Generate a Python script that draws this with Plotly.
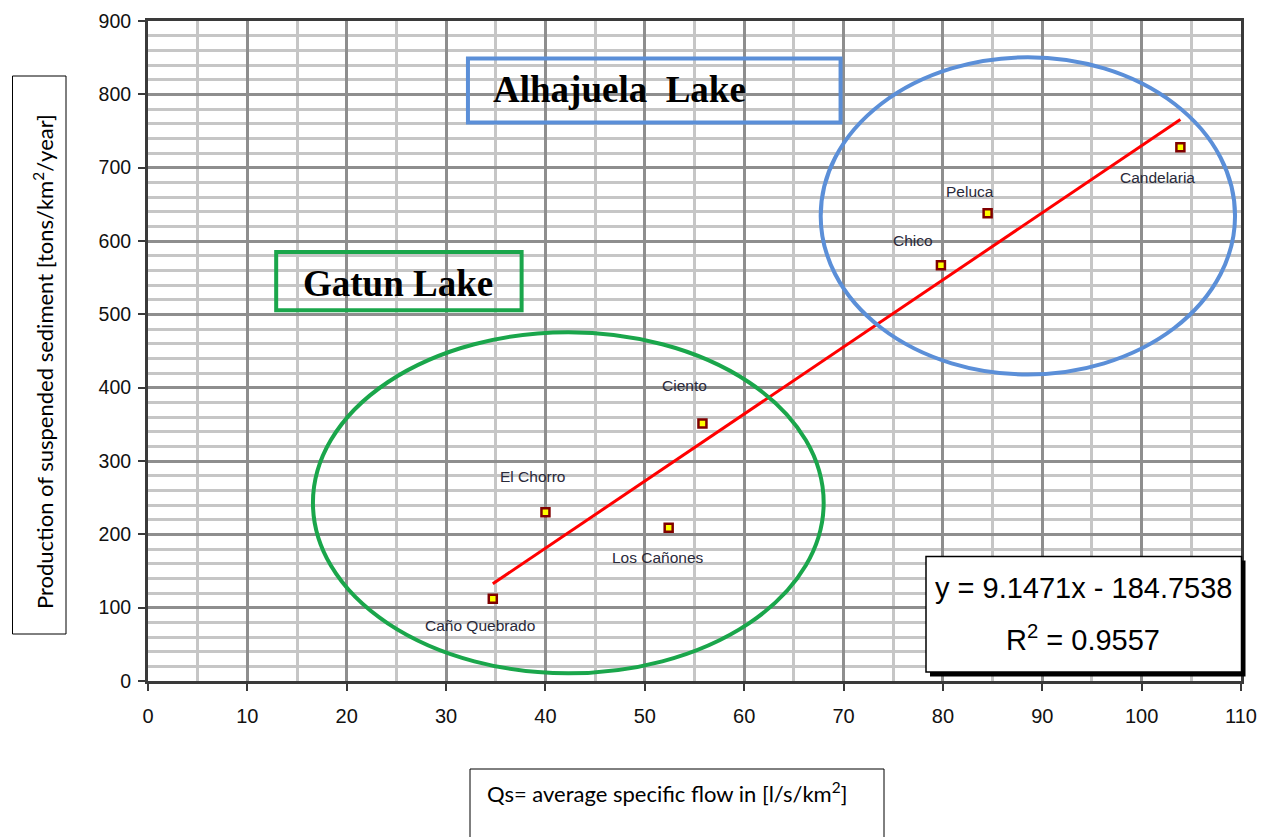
import plotly.graph_objects as go

# ---------------- data ----------------
stations = ["Caño Quebrado", "El Chorro", "Los Cañones", "Ciento", "Chico", "Peluca", "Candelaria"]
qs_flow = [34.7, 40.0, 52.4, 55.8, 79.8, 84.5, 103.9]          # l/s/km2
sediment = [112, 230, 209, 351, 567, 638, 728]                  # tons/km2/year
trend_slope = 9.1471
trend_intercept = -184.7538
r_squared = 0.9557
x_ticks = [0, 10, 20, 30, 40, 50, 60, 70, 80, 90, 100, 110]
y_ticks = [0, 100, 200, 300, 400, 500, 600, 700, 800, 900]

# label offsets in pixels (style)
label_shift = [(-13, -27), (-13, 36), (-11, -30), (-18, 38), (-28, 25), (-18, 22), (-23, -30)]

W, H = 1265, 837
OFF = 8                     # page body margin
L, T = 140, 13
PW, PH = 1093, 660
R = W - L - PW
B = H - T - PH
PLOT_BOTTOM = OFF + T + PH  # screen y of the x axis

fig = go.Figure()

# trend line
x_lo, x_hi = min(qs_flow), max(qs_flow)
fig.add_trace(go.Scatter(
    x=[x_lo, x_hi],
    y=[trend_slope * x_lo + trend_intercept, trend_slope * x_hi + trend_intercept],
    mode="lines", line=dict(color="#ff0000", width=3), hoverinfo="skip", showlegend=False))

# data points
fig.add_trace(go.Scatter(
    x=qs_flow, y=sediment, mode="markers",
    marker=dict(symbol="square", size=8, color="#ffff00",
                line=dict(color="#800000", width=2.5)),
    text=stations, showlegend=False))

anns = []
for name, xv, yv, (dx, dy) in zip(stations, qs_flow, sediment, label_shift):
    anns.append(dict(x=xv, y=yv, xref="x", yref="y", text=name, showarrow=False,
                     xshift=dx, yshift=dy,
                     font=dict(family="Liberation Sans, Arial", size=15.5, color="#2a2a3a")))

# lake labels
anns.append(dict(x=25.17, y=542, xref="x", yref="y", text="<b>Gatun Lake</b>", showarrow=False,
                 font=dict(family="Liberation Serif, Times New Roman", size=37, color="#000000"),
                 xanchor="center", yanchor="middle"))
anns.append(dict(x=34.5, y=807, xref="x", yref="y", text="<b>Alhajuela  Lake</b>", showarrow=False,
                 font=dict(family="Liberation Serif, Times New Roman", size=37, color="#000000"),
                 xanchor="left", yanchor="middle"))


def px2paper_x(px):
    return (px - OFF - L) / PW


def px2paper_y(py):
    return (PLOT_BOTTOM - py) / PH


# equation
anns.append(dict(x=px2paper_x(1083), y=px2paper_y(588), xref="paper", yref="paper",
                 text=f"y = {trend_slope}x - {abs(trend_intercept)}", showarrow=False,
                 font=dict(family="Liberation Sans, Arial", size=29, color="#000000"),
                 xanchor="center", yanchor="middle"))
anns.append(dict(x=px2paper_x(1083), y=px2paper_y(638), xref="paper", yref="paper",
                 text=f"R<sup>2</sup> = {r_squared}", showarrow=False,
                 font=dict(family="Liberation Sans, Arial", size=29, color="#000000"),
                 xanchor="center", yanchor="middle"))

# axis titles
anns.append(dict(x=px2paper_x(44), y=px2paper_y(362), xref="paper", yref="paper",
                 text="Production of suspended sediment [tons/km<sup>2</sup>/year]", showarrow=False,
                 textangle=-90,
                 font=dict(family="Lato, Open Sans", size=22, color="#000000"),
                 xanchor="center", yanchor="middle"))
anns.append(dict(x=px2paper_x(485), y=px2paper_y(792), xref="paper", yref="paper",
                 text="Qs= average specific flow in [l/s/km<sup>2</sup>]", showarrow=False,
                 font=dict(family="Lato, Open Sans", size=22, color="#000000"),
                 xanchor="left", yanchor="middle"))

shapes = [
    # ellipses
    dict(type="circle", xref="x", yref="y", x0=16.6, x1=68.0, y0=10.5, y1=475.5,
         line=dict(color="#1aa64b", width=4), layer="above"),
    dict(type="circle", xref="x", yref="y", x0=67.7, x1=109.4, y0=418, y1=850.5,
         line=dict(color="#5b8fd8", width=4), layer="above"),
    # lake boxes
    dict(type="rect", xref="x", yref="y", x0=12.9, x1=37.6, y0=505.5, y1=585,
         line=dict(color="#1aa64b", width=4), layer="above"),
    dict(type="rect", xref="x", yref="y", x0=32.2, x1=69.7, y0=761.5, y1=848.8,
         line=dict(color="#5b8fd8", width=4), layer="above"),
    # equation box shadow and box
    dict(type="rect", xref="paper", yref="paper",
         x0=px2paper_x(930), x1=px2paper_x(1245.5), y0=px2paper_y(676.5), y1=px2paper_y(560.5),
         fillcolor="#000000", line=dict(width=0), layer="above"),
    dict(type="rect", xref="paper", yref="paper",
         x0=px2paper_x(926), x1=px2paper_x(1241.5), y0=px2paper_y(672), y1=px2paper_y(556.5),
         fillcolor="#ffffff", line=dict(color="#000000", width=1.5), layer="above"),
    # axis title boxes
    dict(type="rect", xref="paper", yref="paper",
         x0=px2paper_x(12.5), x1=px2paper_x(66), y0=px2paper_y(634), y1=px2paper_y(76),
         line=dict(color="#000000", width=1), layer="above"),
    dict(type="rect", xref="paper", yref="paper",
         x0=px2paper_x(470), x1=px2paper_x(884), y0=px2paper_y(845), y1=px2paper_y(769),
         line=dict(color="#000000", width=1), layer="above"),
]

axis_common = dict(showline=True, mirror=True, linecolor="#3a3a3a", linewidth=3,
                   ticks="outside", ticklen=7, tickwidth=1.5, tickcolor="#3a3a3a",
                   gridcolor="#8e8e8e", gridwidth=2.5, zeroline=False)

fig.update_xaxes(range=[0, 110], tickvals=x_ticks, ticktext=[str(v) for v in x_ticks],
                 tickfont=dict(family="Liberation Sans, Arial", size=20, color="#111111"),
                 minor=dict(dtick=5, showgrid=True, gridcolor="#c6c6c6", gridwidth=3, ticks=""),
                 ticklabelstandoff=8, **axis_common)
fig.update_yaxes(range=[0, 900], tickvals=y_ticks, ticktext=[str(v) for v in y_ticks],
                 tickfont=dict(family="Liberation Sans, Arial", size=19.5, color="#111111"),
                 minor=dict(dtick=20, showgrid=True, gridcolor="#c6c6c6", gridwidth=3, ticks=""),
                 ticklabelstandoff=3, **axis_common)

fig.update_layout(width=W, height=H, margin=dict(l=L, r=R, t=T, b=B, autoexpand=False),
                  plot_bgcolor="#ffffff", paper_bgcolor="#ffffff",
                  annotations=anns, shapes=shapes, showlegend=False)

fig.write_html("out.html")
